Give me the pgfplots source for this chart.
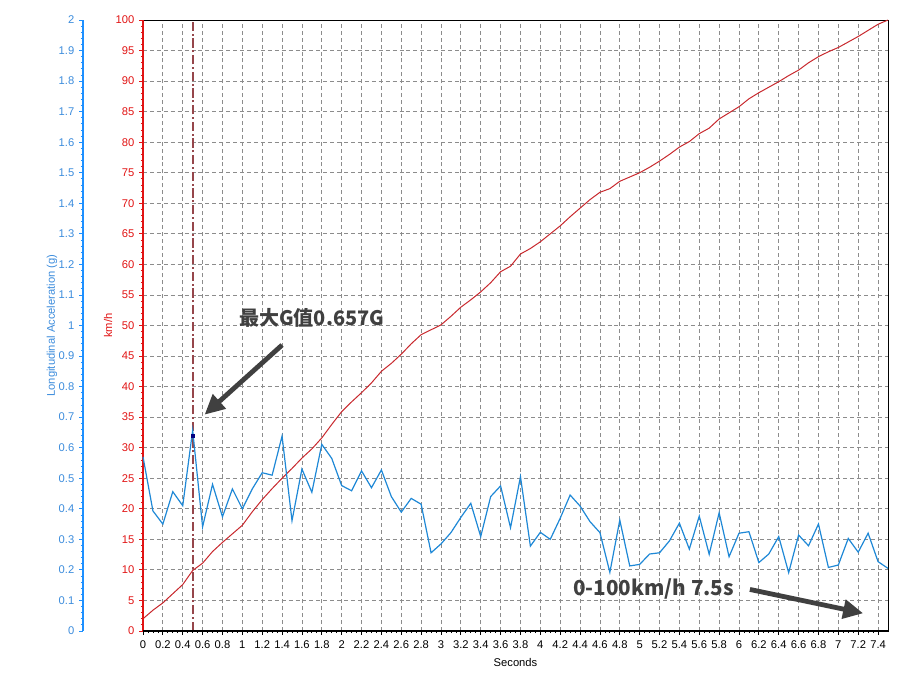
\documentclass[border=0pt]{standalone}
\usepackage{pgfplots}
\pgfplotsset{compat=1.18}
\usepackage{pgfplotstable}
\usepackage{fontspec}
\setmainfont{Liberation Sans}
\newfontfamily\cjk{Noto Sans CJK SC}
\usetikzlibrary{arrows.meta}
\definecolor{kmred}{RGB}{225,20,20}
\definecolor{speedred}{RGB}{200,40,45}
\definecolor{gblue}{RGB}{30,136,214}
\definecolor{gaxis}{RGB}{30,144,255}
\definecolor{glabel}{RGB}{60,140,220}
\definecolor{markline}{RGB}{150,70,75}
\definecolor{annot}{RGB}{64,64,64}

\pgfplotstableread{
t v
0 2.0
0.1 3.4
0.2 4.6
0.3 6.1
0.4 7.6
0.5 9.9
0.6 11.1
0.7 13.0
0.8 14.5
0.9 15.9
1.0 17.3
1.1 19.5
1.2 21.5
1.3 23.3
1.4 25.0
1.5 26.6
1.6 28.3
1.7 29.8
1.8 31.6
1.9 33.8
2.0 35.9
2.1 37.5
2.2 39.0
2.3 40.6
2.4 42.5
2.5 43.8
2.6 45.3
2.7 47.0
2.8 48.5
2.9 49.3
3.0 50.1
3.1 51.5
3.2 53.0
3.3 54.2
3.4 55.5
3.5 57.0
3.6 58.8
3.7 59.7
3.8 61.7
3.9 62.6
4.0 63.7
4.1 65.0
4.2 66.3
4.3 67.8
4.4 69.2
4.5 70.6
4.6 71.8
4.7 72.4
4.8 73.6
4.9 74.3
5.0 75.0
5.1 75.9
5.2 76.9
5.3 78.0
5.4 79.2
5.5 80.1
5.6 81.4
5.7 82.3
5.8 83.8
5.9 84.8
6.0 85.8
6.1 87.1
6.2 88.1
6.3 89.0
6.4 89.9
6.5 90.9
6.6 91.8
6.7 93.0
6.8 94.0
6.9 94.8
7.0 95.5
7.1 96.4
7.2 97.3
7.3 98.3
7.4 99.3
7.5 100.0
}\speedtable

\pgfplotstableread{
t g
0 0.570
0.1 0.393
0.2 0.350
0.3 0.456
0.4 0.410
0.5 0.657
0.6 0.341
0.7 0.480
0.8 0.374
0.9 0.465
1.0 0.400
1.1 0.465
1.2 0.518
1.3 0.510
1.4 0.638
1.5 0.361
1.6 0.530
1.7 0.454
1.8 0.611
1.9 0.565
2.0 0.476
2.1 0.459
2.2 0.524
2.3 0.469
2.4 0.527
2.5 0.440
2.6 0.389
2.7 0.434
2.8 0.415
2.9 0.256
3.0 0.285
3.1 0.322
3.2 0.372
3.3 0.418
3.4 0.309
3.5 0.440
3.6 0.475
3.7 0.338
3.8 0.505
3.9 0.278
4.0 0.323
4.1 0.300
4.2 0.369
4.3 0.445
4.4 0.409
4.5 0.358
4.6 0.322
4.7 0.192
4.8 0.363
4.9 0.213
5.0 0.218
5.1 0.252
5.2 0.256
5.3 0.295
5.4 0.353
5.5 0.268
5.6 0.376
5.7 0.251
5.8 0.387
5.9 0.243
6.0 0.320
6.1 0.325
6.2 0.224
6.3 0.252
6.4 0.309
6.5 0.191
6.6 0.314
6.7 0.279
6.8 0.350
6.9 0.208
7.0 0.216
7.1 0.303
7.2 0.258
7.3 0.320
7.4 0.227
7.5 0.205
}\gtable

\begin{document}
\begin{tikzpicture}
\path[use as bounding box] (0,0) rectangle (681pt,510.75pt);

% main axis (km/h)
\begin{axis}[
  at={(107.25pt,37.5pt)}, anchor=south west,
  scale only axis, width=558.75pt, height=458.25pt,
  xmin=0, xmax=7.5, ymin=0, ymax=100,
  xtick={0,0.2,0.4,0.6,0.8,1,1.2,1.4,1.6,1.8,2,2.2,2.4,2.6,2.8,3,3.2,3.4,3.6,3.8,4,4.2,4.4,4.6,4.8,5,5.2,5.4,5.6,5.8,6,6.2,6.4,6.6,6.8,7,7.2,7.4},
  ytick={0,5,...,100},
  minor x tick num=3, minor y tick num=4,
  xtick pos=bottom, ytick pos=left,
  tick align=outside,
  major tick length=3pt, minor tick length=1.6pt,
  grid=major,
  major grid style={color=black!45, line width=0.65pt, dash pattern=on 3pt off 2.2pt},
  axis line style={black, line width=0.6pt},
  every tick/.style={black, line width=0.6pt},
  ytick style={kmred},
  /pgf/number format/assume math mode=true,
  tick label style={font=\fontsize{8.4}{9}\selectfont},
  yticklabel style={kmred},
  xticklabel style={black, yshift=-1pt},
  xlabel={Seconds},
  ylabel={km/h},
  every axis x label/.style={at={(rel axis cs:0.5,0)}, yshift=-17pt, anchor=north, font=\fontsize{8.4}{9}\selectfont},
  every axis y label/.style={at={(rel axis cs:0,0.5)}, xshift=-26.25pt, rotate=90, anchor=center, font=\fontsize{8.4}{9}\selectfont, kmred},
  clip=false,
]
\addplot[speedred, line width=0.75pt] table[x=t, y=v] {\speedtable};
\draw[markline, line width=1.3pt, dash pattern=on 7pt off 2pt on 1.5pt off 2pt] (axis cs:0.5,0) -- (axis cs:0.5,100);
\draw[kmred, line width=1.5pt] (rel axis cs:0,0) -- (rel axis cs:0,1);
\draw[black, line width=1.5pt] (rel axis cs:0,0) -- (rel axis cs:1,0);
% annotations
\node[annot, font=\cjk\bfseries\fontsize{15}{16}\selectfont] at (axis cs:1.70,51.2) {最大G值0.657G};
\draw[annot, line width=3.6pt, -{Triangle[length=15pt,width=14pt]}] (axis cs:1.40,46.8) -- (axis cs:0.62,35.4);
\node[annot, font=\cjk\bfseries\fontsize{15.5}{16}\selectfont] at (axis cs:5.14,6.8) {0-100km/h 7.5s};
\draw[annot, line width=3.6pt, -{Triangle[length=15pt,width=14pt]}] (axis cs:6.11,6.8) -- (axis cs:7.25,2.9);
\end{axis}

% blue data axis (same box)
\begin{axis}[
  at={(107.25pt,37.5pt)}, anchor=south west,
  scale only axis, width=558.75pt, height=458.25pt,
  xmin=0, xmax=7.5, ymin=0, ymax=2,
  axis lines=none,
  clip=false,
]
\addplot[gblue, line width=0.9pt] table[x=t, y=g] {\gtable};
\addplot[only marks, mark=square*, mark size=1.2pt, color=blue!50!black] coordinates {(0.5,0.640)};
\end{axis}

% blue scale axis
\begin{axis}[
  at={(62.25pt,37.5pt)}, anchor=south west,
  scale only axis, width=1pt, height=458.25pt,
  xmin=0, xmax=1, ymin=0, ymax=2,
  axis x line=none,
  axis y line*=left,
  y axis line style={gaxis, line width=1.5pt},
  ytick={0,0.1,0.2,0.3,0.4,0.5,0.6,0.7,0.8,0.9,1,1.1,1.2,1.3,1.4,1.5,1.6,1.7,1.8,1.9,2},
  minor y tick num=4,
  tick align=outside,
  major tick length=3pt, minor tick length=1.6pt,
  every tick/.style={gaxis, line width=0.6pt},
  /pgf/number format/assume math mode=true,
  yticklabel style={glabel, font=\fontsize{8.4}{9}\selectfont},
  ylabel={Longitudinal Acceleration (g)},
  every axis y label/.style={at={(rel axis cs:0,0.5)}, xshift=-23.25pt, rotate=90, anchor=center, font=\fontsize{8.4}{9}\selectfont, glabel},
]
\end{axis}
\end{tikzpicture}
\end{document}
